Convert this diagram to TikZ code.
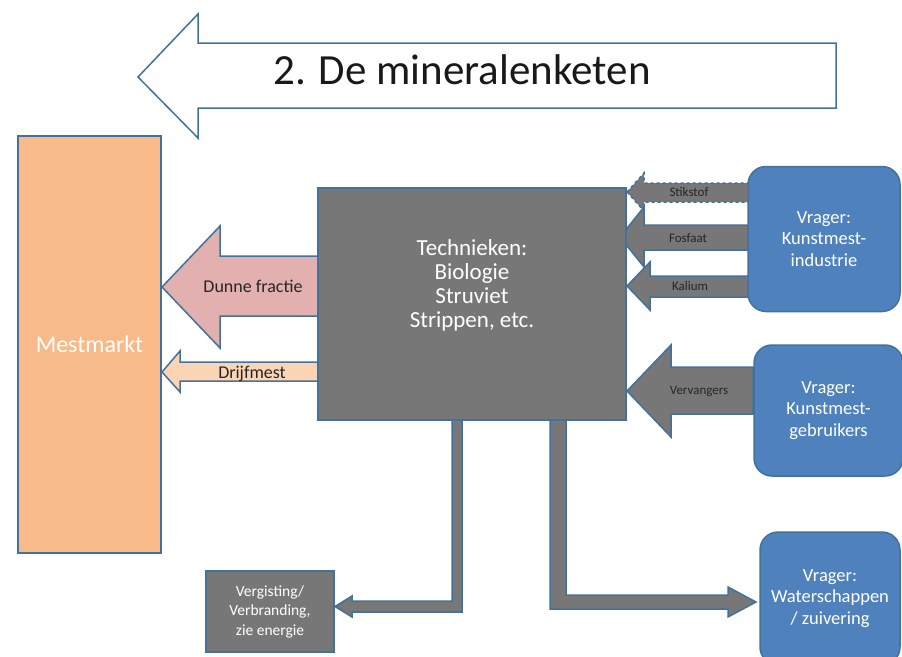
\documentclass[tikz,border=0pt]{standalone}
\usepackage{fontspec}
\setmainfont{Carlito}
\usetikzlibrary{calc,positioning}
\definecolor{rand}{HTML}{41719C}
\definecolor{grijs}{HTML}{777777}
\definecolor{mestkleur}{HTML}{F9BA8A}
\definecolor{dunkleur}{HTML}{E2B0AF}
\definecolor{drijfkleur}{HTML}{FBD4B4}
\definecolor{vragerkleur}{HTML}{4F81BD}
\tikzset{>=latex,
  blok/.style={draw=rand, line width=1.5pt, fill=grijs, text=white, align=center},
  vrager/.style={draw=rand, line width=1.5pt, fill=vragerkleur, text=white, align=center,
    rounded corners=18pt, font=\fontsize{18.5}{21.5}\selectfont},
  pijl/.style={draw=rand, line width=1.5pt, line join=miter},
  pijltekst/.style={text=black!85, font=\fontsize{13}{15}\selectfont}
}
\begin{document}
\begin{tikzpicture}[x=1pt,y=-1pt]
\useasboundingbox (0,0) rectangle (902,656);

% titelpijl
\draw[pijl, fill=white] (138,77) -- (198,14) -- (198,43) -- (836,43) -- (836,108)
  -- (198,108) -- (198,138) -- cycle;
\node[font=\fontsize{43}{45}\selectfont, text=black!90] (titel) at (462,70) {2. De mineralenketen};

% boxen
\node[blok, fill=mestkleur, minimum width=143pt, minimum height=417pt,
  font=\fontsize{24}{28}\selectfont] (mest) at (89.5,344.5) {Mestmarkt};
\node[vrager, minimum width=152pt, minimum height=145pt] (ind) at (824,239)
  {Vrager:\\Kunstmest-\\industrie};
\node[vrager, minimum width=149pt, minimum height=131pt] (gebr) at (828.5,410.5)
  {Vrager:\\Kunstmest-\\gebruikers};
\node[vrager, minimum width=140pt, minimum height=133pt] (water) at (830,598.5)
  {Vrager:\\Waterschappen\\/ zuivering};
\node[blok, minimum width=128pt, minimum height=81pt,
  font=\fontsize{15.5}{19.5}\selectfont] (verg) at (270,611.5)
  {Vergisting/\\Verbranding,\\zie energie};

% pijlen naar links
\draw[pijl, fill=dunkleur] (162,287) -- (220,226) -- (220,256) -- (320,256) -- (320,316)
  -- (220,316) -- (220,348) -- cycle;
\draw[pijl, fill=drijfkleur] (162,372) -- (180,351) -- (180,362) -- (320,362) -- (320,381)
  -- (180,381) -- (180,392) -- cycle;
\draw[pijl, dashed, fill=grijs] (627,192) -- (644,173) -- (644,183) -- (748,183) -- (748,202)
  -- (644,202) -- (644,211) -- cycle;
\draw[pijl, fill=grijs] (620,237) -- (644,207) -- (644,225) -- (748,225) -- (748,250)
  -- (644,250) -- (644,267) -- cycle;
\draw[pijl, fill=grijs] (627,286) -- (650,262) -- (650,276) -- (748,276) -- (748,297)
  -- (650,297) -- (650,310) -- cycle;
\draw[pijl, fill=grijs] (627,391) -- (671,345) -- (671,367) -- (753,367) -- (753,414)
  -- (671,414) -- (671,437) -- cycle;

% pijlen naar beneden
\draw[pijl, fill=grijs] (462,418) -- (462,612) -- (352,612) -- (352,617) -- (335,606.5)
  -- (352,596) -- (352,601) -- (452,601) -- (452,418);
\draw[pijl, fill=grijs] (550,418) -- (550,609) -- (728,609) -- (728,617) -- (756,602)
  -- (728,587) -- (728,595) -- (566,595) -- (566,418);

\node[blok, minimum width=308pt, minimum height=232pt] (tech) at (472,304) {};
\node[text=white, align=center, font=\fontsize{23}{24}\selectfont] (techtekst)
  at ([yshift=19pt]tech.center) {Technieken:\\Biologie\\Struviet\\Strippen, etc.};

\node[pijltekst, font=\fontsize{18}{20}\selectfont] (dun) at (253,286) {Dunne fractie};
\node[pijltekst, font=\fontsize{18}{20}\selectfont] (drijf) at (252,374) {Drijfmest};
\node[pijltekst] (stik) at (689,192) {Stikstof};
\node[pijltekst] (fos) at (688,238) {Fosfaat};
\node[pijltekst] (kal) at (690,286) {Kalium};
\node[pijltekst] (verv) at (699,391) {Vervangers};
\end{tikzpicture}
\end{document}
